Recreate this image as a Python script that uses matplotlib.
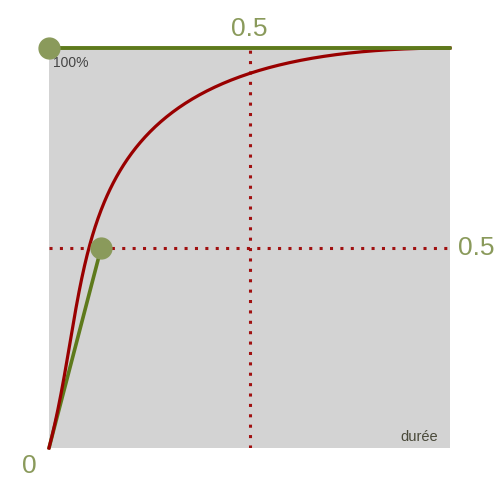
import numpy as np
import matplotlib.pyplot as plt

plt.rcParams['font.family'] = ['Liberation Sans', 'DejaVu Sans']

# cubic-bezier control points (easing curve)
p0 = [0.0, 0.0]
p1 = [0.13, 0.5]
p2 = [0.0, 1.0]
p3 = [1.0, 1.0]
guide_x = 0.5
guide_y = 0.5
top_label = '0.5'
right_label = '0.5'
origin_label = '0'
max_label = '100%'
axis_label = 'durée'

green = '#5e7a1c'
dot_green = '#8a9a5b'
red = '#990000'

t = np.linspace(0, 1, 300)
bx = (1 - t)**3 * p0[0] + 3 * (1 - t)**2 * t * p1[0] + 3 * (1 - t) * t**2 * p2[0] + t**3 * p3[0]
by = (1 - t)**3 * p0[1] + 3 * (1 - t)**2 * t * p1[1] + 3 * (1 - t) * t**2 * p2[1] + t**3 * p3[1]

fig = plt.figure(figsize=(5, 5), dpi=100)
ax = fig.add_axes([0.098, 0.104, 0.802, 0.8])
ax.set_facecolor('#d3d3d3')
ax.set_xlim(0, 1)
ax.set_ylim(0, 1)
for s in ax.spines.values():
    s.set_visible(False)
ax.set_xticks([])
ax.set_yticks([])

# dotted guides
ax.plot([0, 1], [guide_y, guide_y], color='#a01010', lw=2.2, ls=(0, (1, 2.4)), zorder=1)
ax.plot([guide_x, guide_x], [0, 1], color='#a01010', lw=2.2, ls=(0, (1, 2.4)), zorder=1)

# control handles
ax.plot([p0[0], p1[0]], [p0[1], p1[1]], color=green, lw=2.6, solid_capstyle='round', zorder=2, clip_on=False)
ax.plot(bx, by, color=red, lw=2.3, zorder=3, clip_on=False)
ax.plot([p2[0], p3[0]], [p2[1], p3[1]], color=green, lw=2.8, solid_capstyle='round', zorder=4, clip_on=False)
ax.plot([p1[0], p2[0]], [p1[1], p2[1]], ls='none', marker='o', ms=15, color=dot_green, zorder=5, clip_on=False)

# labels
ax.text(guide_x, 1.03, top_label, color=dot_green, fontsize=19, ha='center', va='baseline')
ax.text(1.02, guide_y, right_label, color=dot_green, fontsize=19, ha='left', va='center')
ax.text(-0.05, -0.045, origin_label, color=dot_green, fontsize=19, ha='center', va='center')
ax.text(0.01, 0.98, max_label, color='#444444', fontsize=10, ha='left', va='top')
ax.text(0.97, 0.01, axis_label, color='#4a4a3a', fontsize=10.5, ha='right', va='bottom')

fig.savefig('out.png', dpi=100)
